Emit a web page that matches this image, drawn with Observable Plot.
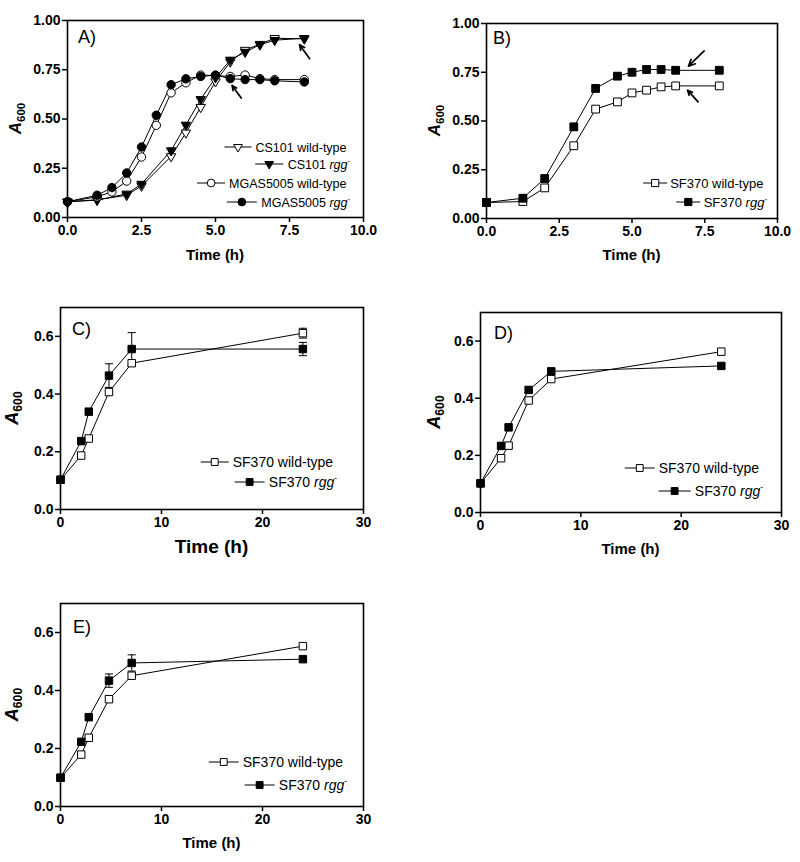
<!DOCTYPE html>
<html><head><meta charset="utf-8">
<script src="https://cdn.jsdelivr.net/npm/d3@7"></script>
<script src="https://cdn.jsdelivr.net/npm/@observablehq/plot@0.6"></script>
<style>
body{margin:0;background:#fff;}
#root{position:relative;width:800px;height:862px;font-family:Arial,"Liberation Sans",sans-serif;}
#root svg{position:absolute;overflow:visible;}
</style></head><body><div id="root"></div>
<script>
// ---------- Panel A ----------
const timeCS = [0,1,2,2.5,3.5,4,4.5,5,5.5,6,6.5,7,8];
const cs101Wt = [0.08,0.09,0.113,0.16,0.31,0.43,0.56,0.69,0.79,0.85,0.88,0.91,0.907];
const cs101Rgg = [0.08,0.088,0.12,0.17,0.34,0.47,0.60,0.71,0.80,0.84,0.877,0.90,0.91];
const timeMGAS = [0,1,1.5,2,2.5,3,3.5,4,4.5,5,5.5,6,6.5,7,8];
const mgasWt = [0.08,0.105,0.13,0.185,0.307,0.468,0.633,0.684,0.723,0.72,0.716,0.723,0.705,0.70,0.70];
const mgasRgg = [0.08,0.113,0.152,0.226,0.358,0.519,0.674,0.704,0.716,0.723,0.705,0.70,0.70,0.694,0.688];
const arrowsA = [{x1:8.18,y1:0.806,x2:7.84,y2:0.877},{x1:5.87,y1:0.606,x2:5.56,y2:0.67}];
// ---------- Panel B ----------
const timeB = [0,1.25,2,3,3.75,4.5,5,5.5,6,6.5,8];
const sfWtB = [0.082,0.087,0.157,0.373,0.561,0.598,0.644,0.658,0.675,0.68,0.68];
const sfRggB = [0.082,0.104,0.205,0.47,0.667,0.73,0.75,0.764,0.764,0.76,0.76];
const arrowsB = [{x1:7.48,y1:0.86,x2:6.94,y2:0.781},{x1:7.27,y1:0.598,x2:6.91,y2:0.658}];
// ---------- Panels C, D, E ----------
const timeCDE = [0,2.05,2.8,4.8,7.05,24];
const wtC = [0.103,0.187,0.246,0.407,0.507,0.611];
const rggC = [0.103,0.237,0.339,0.464,0.556,0.556];
const errWtC = [0,0,0,0,0,0.017];
const errRggC = [0,0,0,0.041,0.057,0.023];
const wtD = [0.102,0.19,0.234,0.392,0.467,0.563];
const rggD = [0.102,0.233,0.298,0.429,0.494,0.513];
const errWtD = [0,0,0,0,0,0];
const errRggD = [0,0,0,0.008,0.008,0.008];
const wtE = [0.099,0.179,0.237,0.37,0.451,0.553];
const rggE = [0.099,0.223,0.308,0.434,0.495,0.508];
const errWtE = [0,0,0,0,0,0];
const errRggE = [0,0,0,0.023,0.028,0];
// ---------- tick labels ----------
const ticksX8 = [0,2.5,5,7.5,10];
const ticksY8 = [0,0.25,0.5,0.75,1];
const ticksX24 = [0,10,20,30];
const ticksY24 = [0,0.2,0.4,0.6];

const root = document.getElementById("root");
const capSymbol = {draw(ctx, size){const w = Math.sqrt(size); ctx.moveTo(-w,0); ctx.lineTo(w,0);}};

function rows(xs, ys, errs){ return xs.map((t,i)=>({t, v: ys[i], e: errs ? errs[i] : 0})); }

function panel(cfg){
  const marks = [];
  for (const s of cfg.series) {
    marks.push(Plot.line(s.data, {x:"t", y:"v", stroke:"black", strokeWidth:1}));
  }
  for (const s of cfg.series) {
    const ed = s.data.filter(d=>d.e>0);
    if (ed.length){
      marks.push(Plot.ruleX(ed, {x:"t", y1:d=>d.v-d.e, y2:d=>d.v+d.e, stroke:"black", strokeWidth:1}));
      marks.push(Plot.dot(ed, {x:"t", y:d=>d.v+d.e, symbol:capSymbol, r:2.3, stroke:"black", strokeWidth:1}));
      marks.push(Plot.dot(ed, {x:"t", y:d=>d.v-d.e, symbol:capSymbol, r:2.3, stroke:"black", strokeWidth:1}));
    }
  }
  for (const s of cfg.series) {
    marks.push(Plot.dot(s.data, {x:"t", y:"v", symbol:s.symbol, r:s.r, rotate:s.rotate||0, fill:s.fill, stroke:"black", strokeWidth:1}));
  }
  if (cfg.arrows) marks.push(Plot.arrow(cfg.arrows, {x1:"x1", y1:"y1", x2:"x2", y2:"y2", stroke:"black", strokeWidth:1.7, headLength:9, headAngle:50}));
  marks.push(Plot.axisX({ticks:cfg.xTicks, tickFormat:cfg.xFmt, tickSize:5, tickPadding:3, fontSize:14, fontWeight:"bold", strokeWidth:1.5, label:null}));
  marks.push(Plot.axisY({ticks:cfg.yTicks, tickFormat:cfg.yFmt, tickSize:5, tickPadding:2, fontSize:14, fontWeight:"bold", strokeWidth:1.5, label:null}));
  marks.push(Plot.frame({stroke:"black", strokeWidth:1.6}));
  const svg = Plot.plot({
    width: cfg.width, height: cfg.height,
    marginLeft: cfg.ml, marginRight: cfg.mr, marginTop: cfg.mt, marginBottom: cfg.mb,
    x: {domain: cfg.xDomain}, y: {domain: cfg.yDomain},
    style: {fontFamily:'Arial,"Liberation Sans",sans-serif', color:"black", background:"transparent", overflow:"visible"},
    marks
  });
  svg.style.left = cfg.left + "px";
  svg.style.top = cfg.top + "px";
  root.appendChild(svg);
  const g = d3.select(svg).append("g").attr("font-family",'Arial,"Liberation Sans",sans-serif').attr("fill","black").attr("text-anchor","start");
  const fx0 = cfg.ml, fx1 = cfg.width - cfg.mr, fy0 = cfg.mt, fy1 = cfg.height - cfg.mb;
  // panel letter
  g.append("text").attr("x", fx0 + cfg.letterDx).attr("y", fy0 + cfg.letterDy).attr("font-size", 18).attr("text-anchor","start").text(cfg.letter);
  // x title
  g.append("text").attr("x", (fx0+fx1)/2).attr("y", fy1 + cfg.xTitleDy).attr("text-anchor","middle")
    .attr("font-size", cfg.xTitleSize).attr("font-weight","bold").text("Time (h)");
  // y title
  const yt = g.append("text").attr("transform", `translate(${cfg.yTitleX},${(fy0+fy1)/2}) rotate(-90)`)
    .attr("text-anchor","middle").attr("font-weight","bold").attr("font-size", cfg.yTitleSize);
  yt.append("tspan").attr("font-style","italic").text("A");
  yt.append("tspan").attr("font-size", cfg.yTitleSize*0.68).attr("dy", 4).text("600");
  // legend
  cfg.series.forEach((s, i) => {
    const cy = cfg.legendY[i];
    const t = g.append("text").attr("x", cfg.legendEnd).attr("y", cy + 4.5).attr("text-anchor","end").attr("font-size", cfg.legendSize);
    t.append("tspan").text(s.label + " ");
    if (s.italic) {
      t.append("tspan").attr("font-style","italic").text(s.italic);
      t.append("tspan").attr("font-size", cfg.legendSize*0.6).attr("dy", -6).text("-");
    }
    const w = t.node().getBBox().width;
    const xs = cfg.legendEnd - w - cfg.legendGap;
    const L = cfg.legendLine[i];
    g.append("line").attr("x1", xs - L).attr("x2", xs).attr("y1", cy).attr("y2", cy).attr("stroke","black").attr("stroke-width",1);
    const sym = d3.symbol().type(s.symbol === "circle" ? d3.symbolCircle : s.symbol === "square" ? d3.symbolSquare : d3.symbolTriangle).size(Math.PI*s.r*s.r*0.85);
    g.append("path").attr("d", sym()).attr("transform", `translate(${xs - L/2},${cy}) rotate(${s.rotate||0})`)
      .attr("fill", s.fill).attr("stroke","black").attr("stroke-width",1);
  });
}

const fmt2 = d3.format(".2f"), fmt1 = d3.format(".1f"), fmt0 = d3.format("d");

panel({
  left:0, top:0, width:400, height:270, ml:67, mr:37, mt:20, mb:53,
  xDomain:[0,10], yDomain:[0,1], xTicks:ticksX8, yTicks:ticksY8, xFmt:fmt1, yFmt:fmt2,
  letter:"A)", letterDx:11, letterDy:23, xTitleDy:43, xTitleSize:15, yTitleX:21, yTitleSize:17,
  arrows: arrowsA,
  legendEnd:350, legendY:[147,164,183,202], legendSize:12.5, legendGap:4, legendLine:[27,28,28,30],
  series:[
    {data:rows(timeCS, cs101Wt), symbol:"triangle", rotate:180, r:3.5, fill:"white", label:"CS101 wild-type"},
    {data:rows(timeCS, cs101Rgg), symbol:"triangle", rotate:180, r:3.5, fill:"black", label:"CS101", italic:"rgg"},
    {data:rows(timeMGAS, mgasWt), symbol:"circle", r:4.2, fill:"white", label:"MGAS5005 wild-type"},
    {data:rows(timeMGAS, mgasRgg), symbol:"circle", r:4.2, fill:"black", label:"MGAS5005", italic:"rgg"}
  ]
});
panel({
  left:400, top:0, width:400, height:270, ml:86, mr:23, mt:23, mb:52,
  xDomain:[0,10], yDomain:[0,1], xTicks:ticksX8, yTicks:ticksY8, xFmt:fmt1, yFmt:fmt2,
  letter:"B)", letterDx:7, letterDy:21, xTitleDy:42, xTitleSize:15, yTitleX:40, yTitleSize:17,
  arrows: arrowsB,
  legendEnd:367, legendY:[183,202], legendSize:13, legendGap:3, legendLine:[24,24],
  series:[
    {data:rows(timeB, sfWtB), symbol:"square", r:4.4, fill:"white", label:"SF370 wild-type"},
    {data:rows(timeB, sfRggB), symbol:"square", r:4.4, fill:"black", label:"SF370", italic:"rgg"}
  ]
});
panel({
  left:0, top:270, width:400, height:290, ml:60, mr:37, mt:37, mb:51,
  xDomain:[0,30], yDomain:[0,0.7], xTicks:ticksX24, yTicks:ticksY24, xFmt:fmt0, yFmt:fmt1,
  letter:"C)", letterDx:12, letterDy:28, xTitleDy:44, xTitleSize:19, yTitleX:18, yTitleSize:18,
  legendEnd:337, legendY:[192,212], legendSize:14, legendGap:4, legendLine:[28,30],
  series:[
    {data:rows(timeCDE, wtC, errWtC), symbol:"square", r:4.2, fill:"white", label:"SF370 wild-type"},
    {data:rows(timeCDE, rggC, errRggC), symbol:"square", r:4.2, fill:"black", label:"SF370", italic:"rgg"}
  ]
});
panel({
  left:400, top:270, width:400, height:290, ml:80, mr:19, mt:42, mb:48,
  xDomain:[0,30], yDomain:[0,0.7], xTicks:ticksX24, yTicks:ticksY24, xFmt:fmt0, yFmt:fmt1,
  letter:"D)", letterDx:14, letterDy:27, xTitleDy:42, xTitleSize:15, yTitleX:40, yTitleSize:18,
  legendEnd:363, legendY:[198,221], legendSize:14, legendGap:4, legendLine:[30,32],
  series:[
    {data:rows(timeCDE, wtD, errWtD), symbol:"square", r:4.2, fill:"white", label:"SF370 wild-type"},
    {data:rows(timeCDE, rggD, errRggD), symbol:"square", r:4.2, fill:"black", label:"SF370", italic:"rgg"}
  ]
});
panel({
  left:0, top:550, width:400, height:312, ml:60, mr:37, mt:53, mb:56,
  xDomain:[0,30], yDomain:[0,0.7], xTicks:ticksX24, yTicks:ticksY24, xFmt:fmt0, yFmt:fmt1,
  letter:"E)", letterDx:13, letterDy:30, xTitleDy:42, xTitleSize:15, yTitleX:18, yTitleSize:18,
  legendEnd:347, legendY:[212,235], legendSize:14, legendGap:4, legendLine:[30,30],
  series:[
    {data:rows(timeCDE, wtE, errWtE), symbol:"square", r:4.2, fill:"white", label:"SF370 wild-type"},
    {data:rows(timeCDE, rggE, errRggE), symbol:"square", r:4.2, fill:"black", label:"SF370", italic:"rgg"}
  ]
});
</script></body></html>
